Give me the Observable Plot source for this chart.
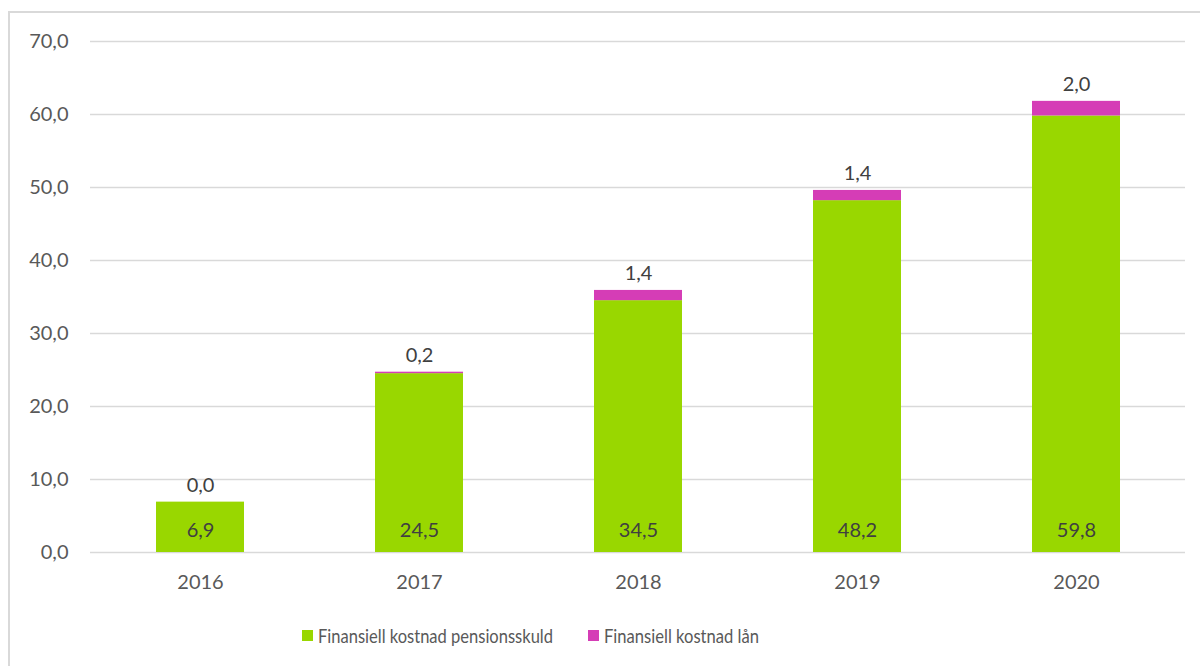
<!DOCTYPE html>
<html><head><meta charset="utf-8">
<script src="https://cdn.jsdelivr.net/npm/d3@7"></script>
<script src="https://cdn.jsdelivr.net/npm/@observablehq/plot@0.6"></script>
<style>
html,body{margin:0;padding:0;background:#fff;width:1200px;height:666px;overflow:hidden;}
#frame{position:absolute;left:8px;top:11px;width:1300px;height:700px;border:2px solid #d9d9d9;box-sizing:border-box;}
#chart{position:absolute;left:0;top:0;}
#legend{position:absolute;top:623px;left:0;width:1200px;font-family:Lato,sans-serif;font-size:20px;color:#595959;}
.item{position:absolute;display:flex;align-items:center;white-space:nowrap;}
.sw{width:11px;height:11px;margin-right:5px;display:inline-block;flex:none;}
.lbl{display:inline-block;transform-origin:0 50%;}
</style></head>
<body>
<div id="frame"></div>
<div id="chart"></div>
<div id="legend"></div>
<script>
const years = ["2016","2017","2018","2019","2020"];
const pension = [6.9, 24.5, 34.5, 48.2, 59.8];
const loan = [0.0, 0.2, 1.4, 1.4, 2.0];
const seriesNames = ["Finansiell kostnad pensionsskuld", "Finansiell kostnad lån"];
const seriesColors = ["#99d700", "#d53db6"];
const yTicks = [0, 10, 20, 30, 40, 50, 60, 70];

const fmt = v => d3.format(".1f")(v).replace(".", ",");
const data = [];
years.forEach((y, i) => {
  data.push({year: y, series: seriesNames[0], value: pension[i]});
  data.push({year: y, series: seriesNames[1], value: loan[i]});
});
const totals = years.map((y, i) => ({year: y, total: pension[i] + loan[i], loan: loan[i], pension: pension[i]}));

const chart = Plot.plot({
  width: 1200, height: 600,
  marginTop: 41, marginBottom: 48, marginLeft: 90, marginRight: 15,
  style: {fontFamily: "Lato, sans-serif", fontSize: "20px", color: "#595959", background: "transparent"},
  x: {domain: years, paddingInner: 0.6, paddingOuter: 0.3, label: null},
  y: {domain: [0, 70], label: null},
  color: {domain: seriesNames, range: seriesColors},
  marks: [
    Plot.gridY(yTicks, {stroke: "#d9d9d9", strokeOpacity: 1, strokeWidth: 1.5}),
    Plot.axisY(yTicks, {tickSize: 0, tickPadding: 22, tickFormat: fmt, fontSize: 20, fill: "#595959", label: null}),
    Plot.axisX({tickSize: 0, tickPadding: 22, fontSize: 20, fill: "#595959", label: null}),
    Plot.barY(data, {x: "year", y: "value", fill: "series", order: seriesNames}),
    Plot.text(totals, {x: "year", y: 0, text: d => fmt(d.pension), dy: -22, fill: "#404040", fontSize: 20}),
    Plot.text(totals, {x: "year", y: "total", text: d => fmt(d.loan), dy: -17, fill: "#404040", fontSize: 20})
  ]
});
document.getElementById("chart").appendChild(chart);

const legend = document.getElementById("legend");
const lx = [302, 588];
const targetW = [235, 155];
seriesNames.forEach((n, i) => {
  const it = document.createElement("div");
  it.className = "item";
  it.style.left = lx[i] + "px";
  it.innerHTML = `<span class="sw" style="background:${seriesColors[i]}"></span><span class="lbl">${n}</span>`;
  legend.appendChild(it);
  const lbl = it.querySelector(".lbl");
  const w = lbl.getBoundingClientRect().width;
  if (w > 0) lbl.style.transform = `scaleX(${targetW[i] / w})`;
});
</script>
</body></html>
